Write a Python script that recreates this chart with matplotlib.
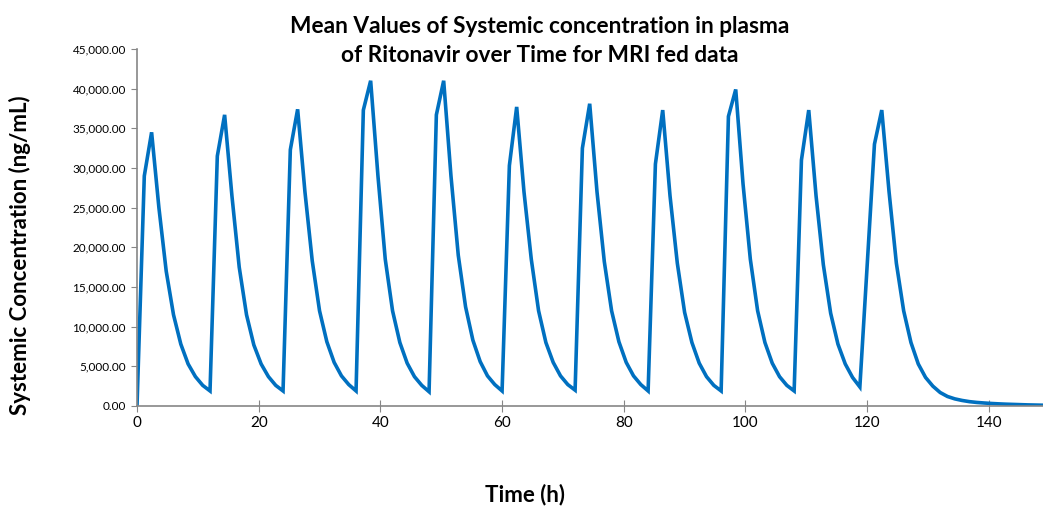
import numpy as np
import matplotlib
matplotlib.use("Agg")
import matplotlib.pyplot as plt
from matplotlib.ticker import FuncFormatter

# sampling every 1.2 h, one row per 12 h dosing interval
time_h = [
    0.0, 1.2, 2.4, 3.6, 4.8, 6.0, 7.2, 8.4, 9.6, 10.8,
    12.0, 13.2, 14.4, 15.6, 16.8, 18.0, 19.2, 20.4, 21.6, 22.8,
    24.0, 25.2, 26.4, 27.6, 28.8, 30.0, 31.2, 32.4, 33.6, 34.8,
    36.0, 37.2, 38.4, 39.6, 40.8, 42.0, 43.2, 44.4, 45.6, 46.8,
    48.0, 49.2, 50.4, 51.6, 52.8, 54.0, 55.2, 56.4, 57.6, 58.8,
    60.0, 61.2, 62.4, 63.6, 64.8, 66.0, 67.2, 68.4, 69.6, 70.8,
    72.0, 73.2, 74.4, 75.6, 76.8, 78.0, 79.2, 80.4, 81.6, 82.8,
    84.0, 85.2, 86.4, 87.6, 88.8, 90.0, 91.2, 92.4, 93.6, 94.8,
    96.0, 97.2, 98.4, 99.6, 100.8, 102.0, 103.2, 104.4, 105.6, 106.8,
    108.0, 109.2, 110.4, 111.6, 112.8, 114.0, 115.2, 116.4, 117.6, 118.8,
    120.0, 121.2, 122.4, 123.6, 124.8, 126.0, 127.2, 128.4, 129.6, 130.8,
    132.0, 133.2, 134.4, 135.6, 136.8, 138.0, 139.2, 140.4, 141.6, 142.8,
    144.0, 145.2, 146.4, 147.6, 148.8,
]

conc_ng_ml = [
    0, 29000, 34500, 25000, 17000, 11500, 7800, 5300, 3700, 2600,
    1900, 31500, 36700, 26500, 17500, 11500, 7700, 5300, 3700, 2600,
    1900, 32300, 37400, 27000, 18300, 12000, 8100, 5500, 3800, 2700,
    1900, 37300, 41000, 29000, 18500, 12000, 8000, 5400, 3700, 2600,
    1800, 36700, 41000, 29000, 19000, 12500, 8300, 5600, 3800, 2700,
    1900, 30300, 37700, 27000, 18500, 12000, 8000, 5500, 3800, 2700,
    2000, 32500, 38100, 27000, 18200, 12000, 8100, 5500, 3800, 2700,
    1900, 30500, 37300, 26500, 18000, 11800, 8000, 5400, 3700, 2600,
    1900, 36500, 39900, 28000, 18500, 12000, 8000, 5400, 3700, 2600,
    1900, 31000, 37300, 26500, 17800, 11700, 7800, 5300, 3600, 2400,
    17700, 33000, 37300, 27000, 18000, 12000, 8000, 5300, 3600, 2500,
    1700, 1200, 900, 700, 550, 450, 380, 320, 270, 230,
    200, 170, 140, 120, 100,
]

x_ticks = [0, 20, 40, 60, 80, 100, 120, 140]
y_ticks = [0, 5000, 10000, 15000, 20000, 25000, 30000, 35000, 40000, 45000]

plt.rcParams['font.family'] = ['Lato', 'DejaVu Sans']

fig = plt.figure(figsize=(10.43, 5.08), dpi=100)
ax = fig.add_axes([137 / 1043, 102 / 508, 906 / 1043, 357 / 508])

ax.plot(time_h, conc_ng_ml, color='#0070C0', linewidth=2.6, solid_joinstyle='miter')

ax.set_xlim(0, 148.9)
ax.set_ylim(0, 45000)
ax.set_xticks(x_ticks)
ax.set_yticks(y_ticks)
ax.yaxis.set_major_formatter(FuncFormatter(lambda v, p: f"{v:,.2f}"))

for side in ['top', 'right']:
    ax.spines[side].set_visible(False)
for side in ['left', 'bottom']:
    ax.spines[side].set_color('#868686')
    ax.spines[side].set_linewidth(1.2)

ax.tick_params(axis='y', direction='out', length=4, color='#868686', labelsize=8.5, pad=4)
ax.tick_params(axis='x', direction='inout', length=8, color='#868686', labelsize=11, pad=3)

fig.text(540 / 1043, 1 - 41 / 508,
         "Mean Values of Systemic concentration in plasma\nof Ritonavir over Time for MRI fed data",
         ha='center', va='center', fontsize=16.3, fontweight='bold', linespacing=1.5)
fig.text(525 / 1043, 1 - 495 / 508, "Time (h)",
         ha='center', va='center', fontsize=16, fontweight='bold')
fig.text(20 / 1043, 1 - 255 / 508, "Systemic Concentration (ng/mL)",
         ha='center', va='center', rotation=90, fontsize=16, fontweight='bold')

fig.savefig("out.png", dpi=100)
